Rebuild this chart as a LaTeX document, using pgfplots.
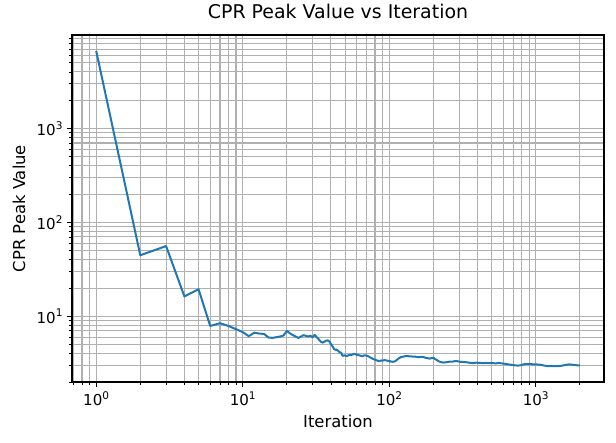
\documentclass[border=0pt]{standalone}
\usepackage{fontspec}
\setmainfont{DejaVu Sans}
\usepackage{pgfplots}
\pgfplotsset{compat=1.18}
\definecolor{mplblue}{HTML}{1F77B4}
\definecolor{mplgrid}{HTML}{B0B0B0}
\newcommand\pw[1]{10\raisebox{0.42em}{\scalebox{0.7}{#1}}}
\begin{document}
\begin{tikzpicture}
\useasboundingbox (-54pt,-45pt) rectangle (408pt,286.5pt);
\begin{axis}[
  at={(0,0)}, anchor=south west,
  scale only axis, width=399pt, height=260.25pt,
  xmode=log, ymode=log,
  xmin=0.684, xmax=2923, ymin=2.0, ymax=9890,
  xtick={1,10,100,1000},
  xticklabels={\pw{0},\pw{1},\pw{2},\pw{3}},
  ytick={10,100,1000},
  yticklabels={\pw{1},\pw{2},\pw{3}},
  minor xtick={0.7,0.8,0.9,2,3,4,5,6,7,8,9,20,30,40,50,60,70,80,90,200,300,400,500,600,700,800,900,2000},
  minor ytick={2,3,4,5,6,7,8,9,20,30,40,50,60,70,80,90,200,300,400,500,600,700,800,900,2000,3000,4000,5000,6000,7000,8000,9000},
  xtick pos=bottom, ytick pos=left,
  tick align=outside,
  major tick length=3.6pt, minor tick length=2.1pt,
  every tick/.style={black, line width=0.8pt},
  every minor tick/.style={black, line width=0.6pt},
  grid=both,
  major grid style={mplgrid, line width=0.8pt},
  minor grid style={mplgrid, line width=0.8pt},
  axis line style={black, line width=0.8pt},
  tick label style={font=\fontsize{11.3}{13}\selectfont},
  title={CPR Peak Value vs Iteration},
  title style={font=\fontsize{14.2}{16}\selectfont, at={(axis description cs:0.5,1.0239)}, anchor=base},
  xlabel={Iteration},
  ylabel={CPR Peak Value},
  label style={font=\fontsize{12.3}{14}\selectfont},
  xlabel style={at={(axis description cs:0.5,-0.1297)}, anchor=base},
  ylabel style={at={(axis description cs:-0.0883,0.5)}, anchor=base},
]
\addplot[mplblue, line width=1.5pt, line join=round] table {
x y
1 6710
2 44.7
3 56
4 16.3
5 19.4
6 7.9
7 8.45
8 7.9
9 7.3
10 6.8
11 6.15
12 6.7
13 6.55
14 6.5
15 5.95
16 5.9
17 6.0
18 6.1
19 6.25
20 7.0
21 6.6
22 6.3
23 6.1
24 5.9
25 6.1
26 6.3
27 6.2
28 6.1
29 6.2
30 6.0
31 6.35
32 6.0
33 5.7
34 5.4
35 5.25
36 5.35
37 5.5
38 5.55
39 5.4
40 5.1
41 4.8
42 4.5
43 4.4
44 4.42
45 4.25
46 4.15
47 4.1
48 3.8
49 3.82
50 3.85
51 3.78
52 3.8
53 3.86
54 3.9
55 3.87
56 3.92
58 4.0
60 3.9
62 3.86
64 3.8
66 3.78
68 3.85
70 3.82
72 3.75
75 3.62
78 3.5
80 3.46
82 3.4
84 3.36
86 3.35
88 3.39
90 3.38
93 3.42
95 3.4
98 3.36
100 3.35
103 3.3
106 3.28
110 3.33
113 3.45
116 3.56
120 3.68
124 3.72
127 3.75
131 3.79
134 3.78
138 3.74
141 3.76
145 3.72
150 3.73
155 3.69
160 3.67
165 3.71
170 3.7
175 3.64
180 3.6
185 3.57
189 3.55
195 3.6
200 3.62
205 3.52
210 3.45
215 3.36
220 3.3
227 3.25
234 3.22
242 3.24
250 3.26
260 3.3
270 3.29
280 3.33
289 3.34
300 3.3
310 3.27
325 3.26
340 3.24
356 3.2
374 3.18
392 3.21
410 3.2
435 3.17
458 3.19
480 3.17
500 3.18
530 3.16
565 3.18
590 3.15
620 3.12
650 3.08
680 3.05
710 3.02
735 3.0
760 2.99
790 3.02
825 3.08
860 3.12
890 3.09
920 3.11
960 3.08
1000 3.09
1040 3.06
1080 3.05
1130 3.0
1200 2.96
1250 2.95
1300 2.96
1380 2.95
1450 2.96
1500 2.98
1550 3.01
1620 3.05
1700 3.08
1750 3.06
1800 3.05
1870 3.02
1940 3.01
2000 3.0
};
\end{axis}
\end{tikzpicture}
\end{document}
